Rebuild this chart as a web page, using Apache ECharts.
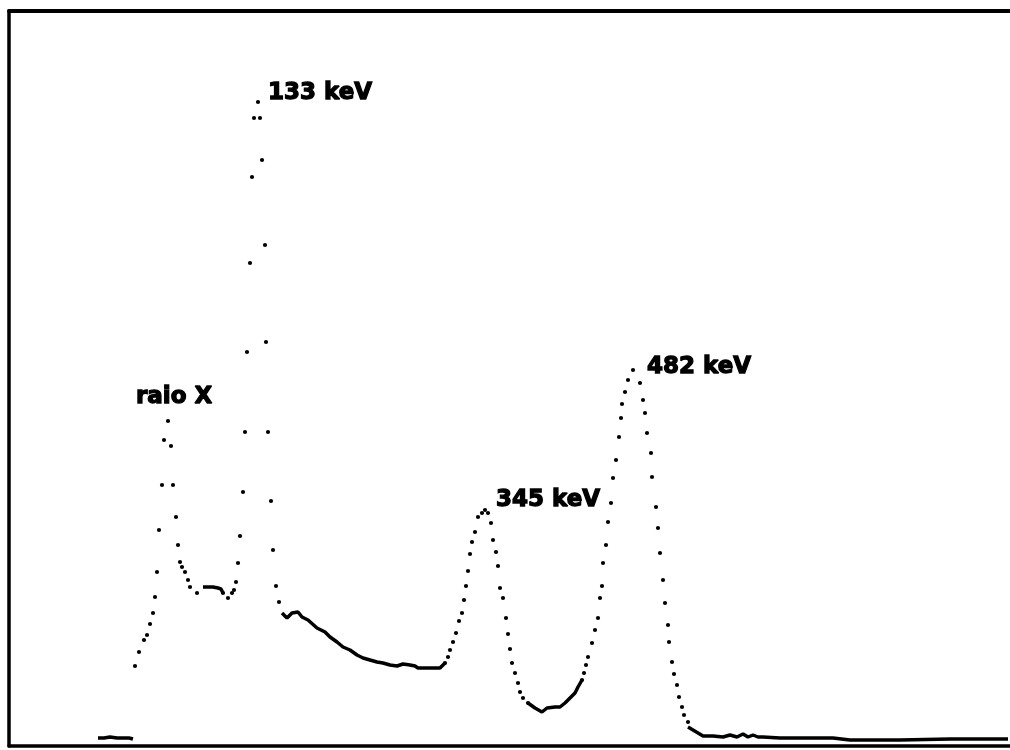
<!DOCTYPE html>
<html>
<head>
<meta charset="utf-8">
<script src="https://cdn.jsdelivr.net/npm/echarts@6/dist/echarts.min.js"></script>
<style>html,body{margin:0;padding:0;background:#fff}#c{width:1010px;height:750px}</style>
</head>
<body>
<div id="c"></div>
<script>
// Spectrum readings: [channel, counts] (arbitrary units)
const sparseDots = [
  [126,80],[130,94],[135,106],[138,111],[141,122],[144,133],[146,149],[148,174],[150,216],[153,261],[155,306],
  [159,325],[162,300],[164,261],[167,229],[169,201],[171,184],[173,179],[176,174],[179,166],[181,159],[188,153],
  [214,153],[219,148],[223,153],[225,156],[227,164],[229,183],[231,210],[234,254],[236,314],[238,394],[241,483],
  [243,569],[245,628],[249,644],[251,628],[253,586],[256,501],[257,404],[259,314],[262,245],[264,196],[267,160],[270,144],
  [436,83],[439,89],[441,96],[444,104],[447,113],[450,125],[453,133],[455,146],[457,160],[459,175],[461,192],[463,204],
  [466,214],[469,229],[473,233],[476,236],[479,233],[482,223],[484,206],[487,194],[489,180],[491,158],[494,148],[497,128],
  [499,112],[501,97],[503,83],[506,73],[509,63],[511,54],[514,48],[519,43],
  [573,66],[575,73],[577,81],[579,89],[583,103],[586,116],[589,128],[591,148],[593,160],[594,183],[597,201],[599,224],
  [602,243],[604,268],[607,286],[610,309],[612,328],[613,342],[616,354],[619,366],[624,376],[631,363],[634,346],[636,333],
  [638,313],[642,293],[643,269],[647,239],[649,218],[651,193],[654,166],[656,143],[659,121],[660,104],[663,84],[665,72],
  [668,61],[670,49],[673,39],[675,31],[679,24]
];
const lowEdge = [[89,8],[95,8],[101,9],[108,8],[114,8],[120,8],[124,7]];
const xrayShoulder = [[194,159],[199,159],[204,159],[209,158],[212,157],[214,153]];
const comptonShelf = [[273,133],[278,128],[283,133],[289,134],[293,129],[299,126],[308,118],[316,114],[321,109],
  [328,104],[334,99],[341,96],[348,91],[354,88],[361,86],[368,84],[374,83],[381,81],[388,80],[394,82],[401,81],[406,80],
  [409,78],[419,78],[431,78],[436,83]];
const valley = [[519,43],[526,38],[533,34],[538,38],[546,39],[551,39],[556,43],[561,48],[566,53],[569,59],[573,66]];
const tail = [[679,19],[684,16],[689,13],[694,10],[704,10],[714,9],[721,11],[728,9],[734,12],[739,9],[744,11],[749,9],
  [754,9],[771,8],[804,8],[824,8],[826,6],[841,6],[891,6],[941,7],[999,7]];
const peakLabels = ['raio X','133 keV','345 keV','482 keV'];
const peakLabelAnchors = [[127,349],[259,653],[487,246],[638,379]];

const chart = echarts.init(document.getElementById('c'));
const lineStyleDense = {color:'#000', width:3.5, opacity:1};
function denseLine(name, data){
  return {name, type:'line', data, symbol:'none', lineStyle:lineStyleDense, smooth:false, silent:true, animation:false};
}
chart.setOption({
  animation:false,
  backgroundColor:'#fff',
  grid:{left:9, top:11, right:0, bottom:4, containLabel:false},
  xAxis:[
    {type:'value', min:0, max:1001, position:'bottom',
     axisLine:{show:true, onZero:false, lineStyle:{color:'#000', width:3.5}},
     axisTick:{show:false}, axisLabel:{show:false}, splitLine:{show:false}},
    {type:'value', min:0, max:1001, position:'top',
     axisLine:{show:true, onZero:false, lineStyle:{color:'#000', width:4}},
     axisTick:{show:false}, axisLabel:{show:false}, splitLine:{show:false}}
  ],
  yAxis:{type:'value', min:0, max:735,
     axisLine:{show:true, onZero:false, lineStyle:{color:'#000', width:3.5}},
     axisTick:{show:false}, axisLabel:{show:false}, splitLine:{show:false}},
  series:[
    {name:'spectre', type:'scatter', data:sparseDots, symbol:'circle', symbolSize:4.2,
     itemStyle:{color:'#000', opacity:1}, silent:true},
    denseLine('bas', lowEdge),
    denseLine('épaulement', xrayShoulder),
    denseLine('Compton', comptonShelf),
    denseLine('vallée', valley),
    denseLine('queue', tail),
    {name:'pics', type:'scatter', symbolSize:0, silent:true,
     data: peakLabelAnchors.map((p,i)=>({value:p, name:peakLabels[i]})),
     label:{show:true, position:'inside', align:'left', verticalAlign:'middle',
       formatter:p=>p.name, color:'#000', opacity:1, fontFamily:'DejaVu Sans', fontWeight:'bold', fontSize:23,
       textBorderColor:'#000', textBorderWidth:1.3}}
  ]
});
</script>
</body>
</html>
